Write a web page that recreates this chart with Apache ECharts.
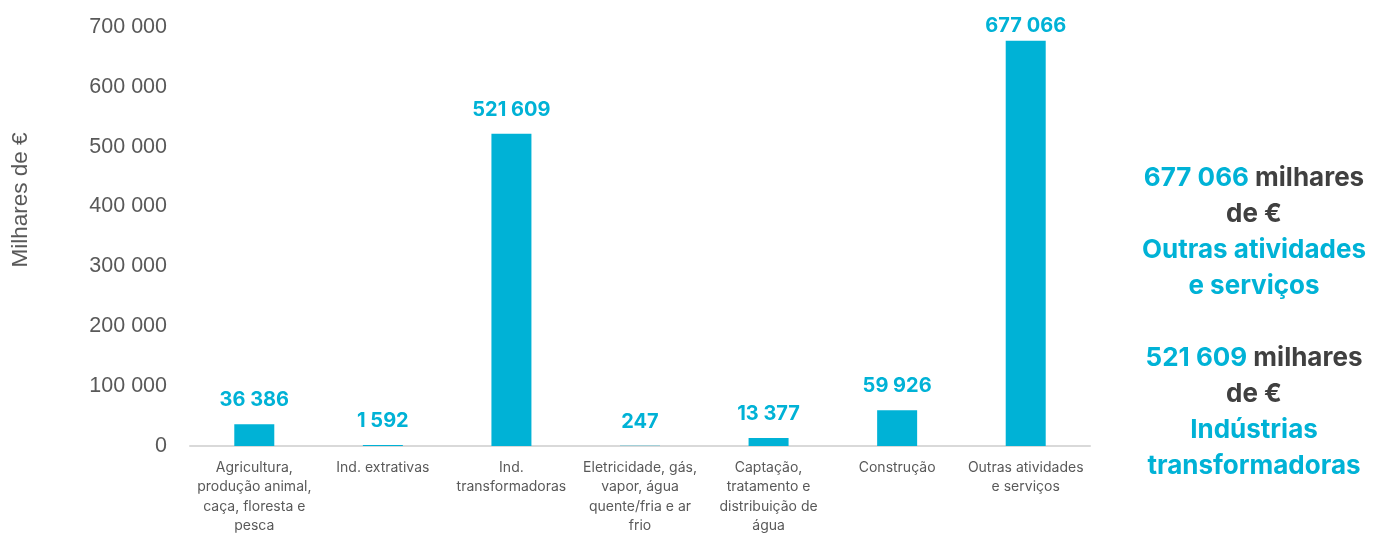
<!DOCTYPE html>
<html>
<head>
<meta charset="utf-8">
<script src="https://cdn.jsdelivr.net/npm/echarts@6/dist/echarts.min.js"></script>
<style>
  html, body { margin: 0; padding: 0; background: #fff; }
  #chart { width: 1373px; height: 536px; }
</style>
</head>
<body>
<div id="chart"></div>
<script>
// categorias (quebras de linha como no original)
const categories = [
  "Agricultura,\nprodução animal,\ncaça, floresta e\npesca",
  "Ind. extrativas",
  "Ind.\ntransformadoras",
  "Eletricidade, gás,\nvapor, água\nquente/fria e ar\nfrio",
  "Captação,\ntratamento e\ndistribuição de\nágua",
  "Construção",
  "Outras atividades\ne serviços"
];
const values = [36386, 1592, 521609, 247, 13377, 59926, 677066];
const yTicks = [0, 100000, 200000, 300000, 400000, 500000, 600000, 700000];

const blue = "#00B2D6";
const grey = "#595959";
const font = "Inter, 'Open Sans', sans-serif";
const tickFont = "'Liberation Sans', Arial, sans-serif";

function fmt(v) {
  return String(v).replace(/\B(?=(\d{3})+(?!\d))/g, " ");
}

const maxVal = Math.max(...values);
// o rótulo do maior valor fica encostado à barra (limite do gráfico)
const barData = values.map(v => v === maxVal ? { value: v, label: { distance: 5 } } : v);

const chart = echarts.init(document.getElementById("chart"));
chart.setOption({
  animation: false,
  grid: { left: 190, right: 283, top: 27, bottom: 88 },
  xAxis: {
    type: "category",
    data: categories,
    axisLine: { lineStyle: { color: "#d9d9d9", width: 2 } },
    axisTick: { show: false },
    axisLabel: {
      interval: 0,
      color: grey,
      fontFamily: font,
      fontSize: 14,
      lineHeight: 19.5,
      margin: 12,
      verticalAlign: "top"
    }
  },
  yAxis: {
    type: "value",
    min: yTicks[0],
    max: yTicks[yTicks.length - 1],
    interval: 100000,
    splitLine: { show: false },
    axisLine: { show: false },
    axisTick: { show: false },
    axisLabel: {
      color: grey,
      fontFamily: tickFont,
      fontSize: 21.5,
      margin: 23,
      formatter: fmt
    }
  },
  series: [{
    type: "bar",
    data: barData,
    barWidth: 40,
    itemStyle: { color: blue },
    label: {
      show: true,
      position: "top",
      distance: 14,
      color: blue,
      fontFamily: font,
      fontWeight: "bold",
      fontSize: 20,
      formatter: p => fmt(p.value)
    }
  }],
  graphic: [{
    type: "text",
    x: 21,
    y: 200,
    rotation: Math.PI / 2,
    style: {
      text: "Milhares de €",
      fill: grey,
      font: "22.5px " + tickFont,
      align: "center",
      verticalAlign: "middle"
    }
  }, {
    type: "text",
    x: 1254,
    y: 160,
    style: {
      text: "{b|" + fmt(values[6]) + "} {g|milhares}\n{g|de €}\n{b|Outras atividades}\n{b|e serviços}\n\n" +
            "{b|" + fmt(values[2]) + "} {g|milhares}\n{g|de €}\n{b|Indústrias}\n{b|transformadoras}",
      align: "center",
      verticalAlign: "top",
      font: "bold 26px " + font,
      lineHeight: 36,
      rich: {
        b: { fill: blue, fontFamily: font, fontWeight: "bold", fontSize: 26, lineHeight: 36 },
        g: { fill: "#404040", fontFamily: font, fontWeight: "bold", fontSize: 26, lineHeight: 36 }
      }
    }
  }]
});
</script>
</body>
</html>
